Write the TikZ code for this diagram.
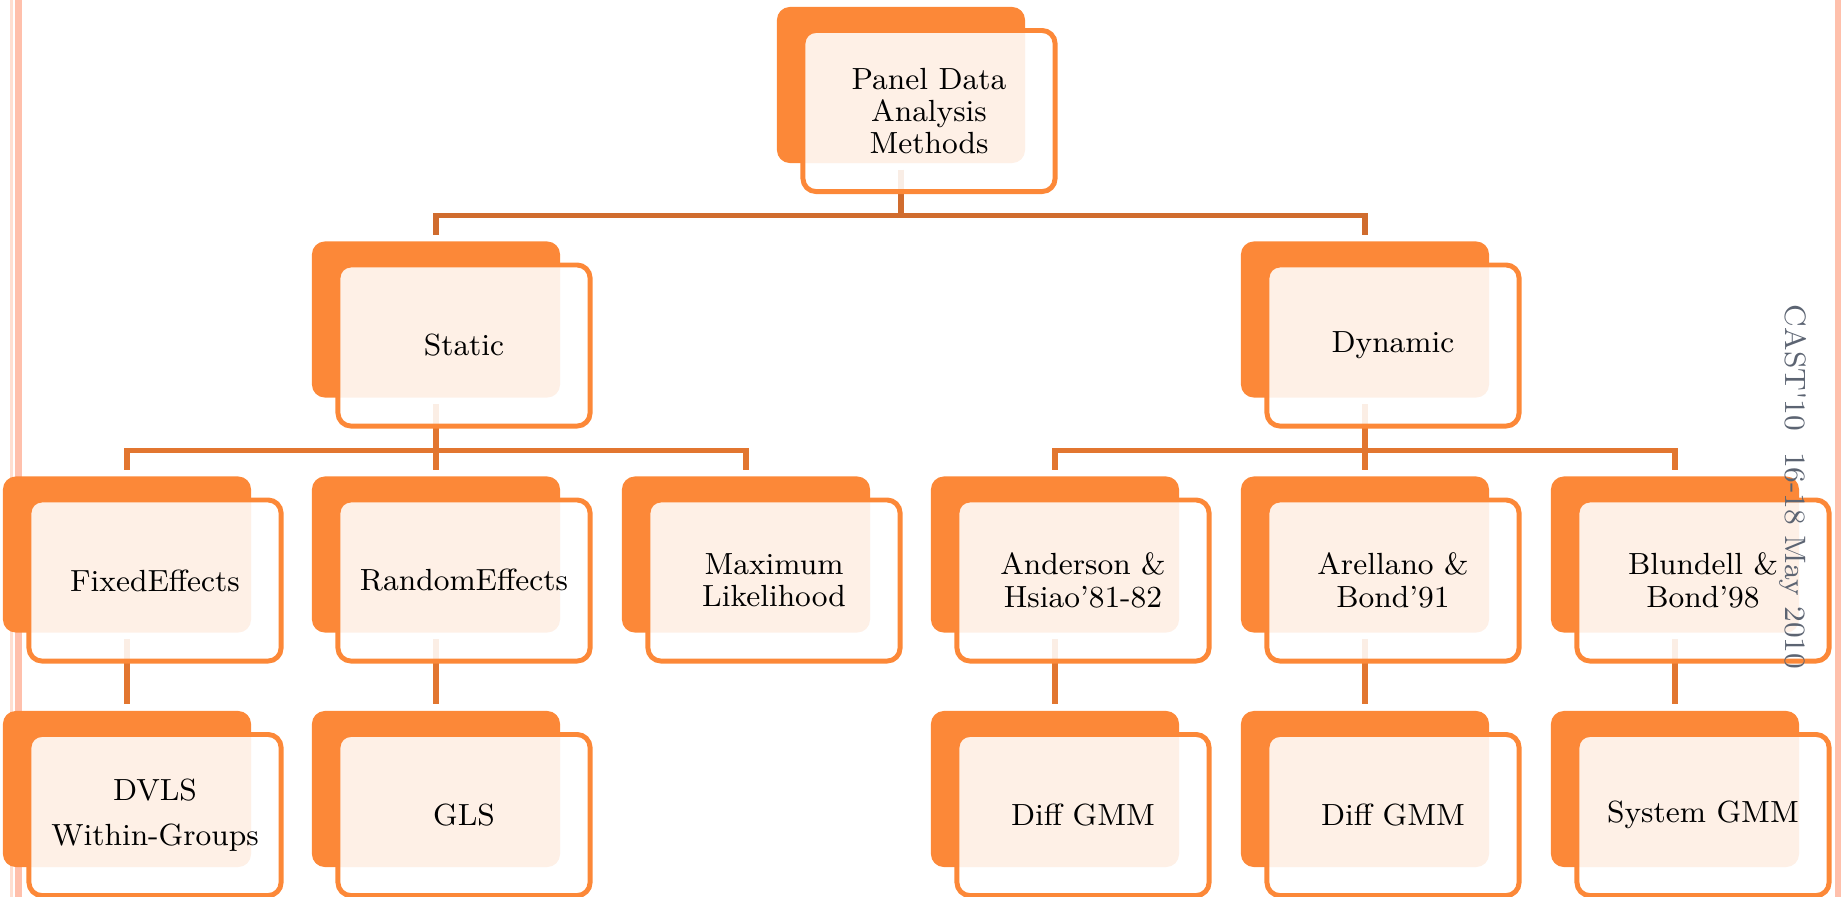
\documentclass[tikz,border=0pt]{standalone}
\usetikzlibrary{positioning,backgrounds}

\definecolor{boxorange}{RGB}{252,136,56}
\definecolor{linkdark}{RGB}{208,108,46}
\definecolor{linkmid}{RGB}{226,118,48}
\definecolor{stripe}{RGB}{255,192,172}
\definecolor{stripelight}{RGB}{255,222,208}
\definecolor{notegray}{RGB}{92,100,114}

\begin{document}
\begin{tikzpicture}[x=0.01cm,y=-0.01cm,
	back/.style={rectangle,rounded corners=0.13cm,fill=boxorange,
		minimum width=2.48cm,minimum height=1.56cm,inner sep=0pt},
	front/.style={rectangle,rounded corners=0.13cm,draw=boxorange,line width=1.4pt,
		fill=white,fill opacity=0.88,text opacity=1,
		minimum width=2.52cm,minimum height=1.61cm,inner sep=0pt,align=center,
		font=\fontsize{8.7}{9.2}\selectfont,xshift=0.28cm,yshift=-0.26cm},
	link/.style={line width=1.5pt,shorten <=0.06cm,shorten >=0.06cm}]
	\useasboundingbox (0,0) rectangle (1841,897);
	
	% back boxes
	\node[back] (top-b) at (901,85) {};
	\node[back] (static-b) at (436,319.5) {};
	\node[back] (dynamic-b) at (1365,319.5) {};
	\node[back] (fixed-b) at (127,554.5) {};
	\node[back] (random-b) at (436,554.5) {};
	\node[back] (maxlik-b) at (746,554.5) {};
	\node[back] (anderson-b) at (1055,554.5) {};
	\node[back] (arellano-b) at (1365,554.5) {};
	\node[back] (blundell-b) at (1675,554.5) {};
	\node[back] (dvls-b) at (127,789) {};
	\node[back] (gls-b) at (436,789) {};
	\node[back] (diffah-b) at (1055,789) {};
	\node[back] (diffab-b) at (1365,789) {};
	\node[back] (sysgmm-b) at (1675,789) {};
	
	% text boxes
	\node[front] (top) at (top-b) {Panel Data\\Analysis\\Methods};
	\node[front] (static) at (static-b) {Static};
	\node[front] (dynamic) at (dynamic-b) {Dynamic};
	\node[front] (fixed) at (fixed-b) {FixedEffects};
	\node[front] (random) at (random-b) {RandomEffects};
	\node[front] (maxlik) at (maxlik-b) {Maximum\\Likelihood};
	\node[front] (anderson) at (anderson-b) {Anderson \&\\Hsiao'81-82};
	\node[front] (arellano) at (arellano-b) {Arellano \&\\Bond'91};
	\node[front] (blundell) at (blundell-b) {Blundell \&\\Bond'98};
	\node[front] (dvls) at (dvls-b) {DVLS\\[3.5pt]Within-Groups};
	\node[front] (gls) at (gls-b) {GLS};
	\node[front] (diffah) at (diffah-b) {Diff GMM};
	\node[front] (diffab) at (diffab-b) {Diff GMM};
	\node[front] (sysgmm) at (sysgmm-b) {System GMM};
	
	\node[rotate=-90,text=notegray,font=\fontsize{8.4}{10}\selectfont] (note) at (1793,487)
		{CAST\textquotesingle 10\ \ 16-18 May 2010};
	
	\begin{scope}[on background layer]
		\fill[stripelight] (10,0) rectangle (12.5,897);
		\fill[stripe] (15,0) rectangle (22,897);
		\fill[stripe] (1835,0) rectangle (1841,897);
		
		\draw[link,linkdark] (top-b.south) -- ++(0,52) -| (static-b.north);
		\draw[link,linkdark] (top-b.south) -- ++(0,52) -| (dynamic-b.north);
		
		\draw[link,linkmid] (static-b.south) -- ++(0,52) -| (fixed-b.north);
		\draw[link,linkmid] (static-b.south) -- ++(0,52) -| (random-b.north);
		\draw[link,linkmid] (static-b.south) -- ++(0,52) -| (maxlik-b.north);
		\draw[link,linkmid] (dynamic-b.south) -- ++(0,52) -| (anderson-b.north);
		\draw[link,linkmid] (dynamic-b.south) -- ++(0,52) -| (arellano-b.north);
		\draw[link,linkmid] (dynamic-b.south) -- ++(0,52) -| (blundell-b.north);
		
		\draw[link,linkmid] (fixed-b) -- (dvls-b);
		\draw[link,linkmid] (random-b) -- (gls-b);
		\draw[link,linkmid] (anderson-b) -- (diffah-b);
		\draw[link,linkmid] (arellano-b) -- (diffab-b);
		\draw[link,linkmid] (blundell-b) -- (sysgmm-b);
	\end{scope}
\end{tikzpicture}
\end{document}
